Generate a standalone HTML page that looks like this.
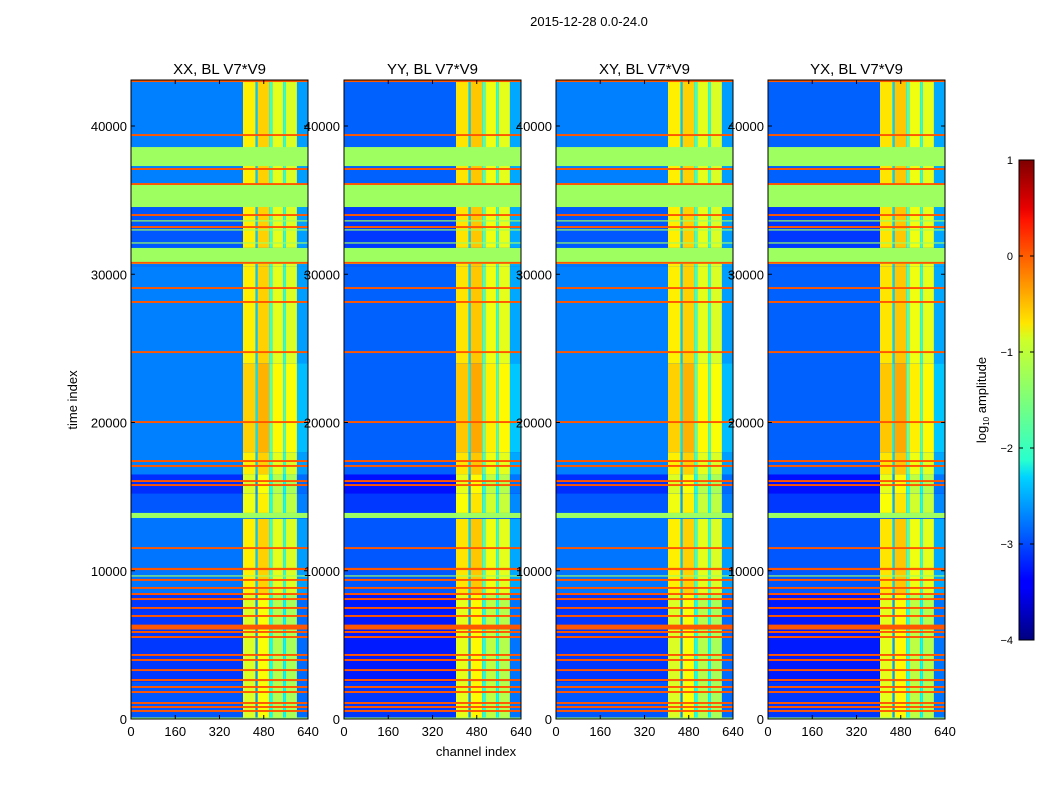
<!DOCTYPE html>
<html><head><meta charset="utf-8"><style>
body{margin:0;background:#fff;}
svg text{font-family:"Liberation Sans",sans-serif;fill:#000;}
</style></head><body>
<svg id="fig" width="1050" height="800" viewBox="0 0 1050 800" xmlns="http://www.w3.org/2000/svg">
<rect width="1050" height="800" fill="#fff"/>
<text x="589" y="26" font-size="13" text-anchor="middle">2015-12-28 0.0-24.0</text>
<text transform="translate(77,400) rotate(-90)" font-size="13" text-anchor="middle">time index</text>
<text x="476" y="756" font-size="13" text-anchor="middle">channel index</text>
<defs>
<linearGradient id="jet" x1="0" y1="1" x2="0" y2="0">
<stop offset="0" stop-color="#00007f"/><stop offset="0.11" stop-color="#0000ff"/>
<stop offset="0.125" stop-color="#0000ff"/><stop offset="0.34" stop-color="#00d4ff"/>
<stop offset="0.375" stop-color="#29ffce"/><stop offset="0.5" stop-color="#7dff7a"/>
<stop offset="0.625" stop-color="#ceff29"/><stop offset="0.66" stop-color="#ffe600"/>
<stop offset="0.875" stop-color="#ff1300"/><stop offset="0.9" stop-color="#e80000"/>
<stop offset="1" stop-color="#7f0000"/>
</linearGradient>
</defs>
<g>
<rect x="1019" y="160" width="15" height="480" fill="url(#jet)" stroke="#000" stroke-width="1"/>
<g id="cbticks"></g>
<text transform="translate(986,400) rotate(-90)" font-size="13" text-anchor="middle">log<tspan font-size="8" dy="3">10</tspan><tspan dy="-3"> amplitude</tspan></text>
</g>
<g id="panels"></g>
</svg>
<script>
// ---- data ----
const panelTitles = ["XX, BL V7*V9","YY, BL V7*V9","XY, BL V7*V9","YX, BL V7*V9"];
const panelBaseShift = [0, -0.15, 0, -0.15];
const xTicks = [0,160,320,480,640];
const yTicks = [0,10000,20000,30000,40000];
const cbTicks = [1,0,-1,-2,-3,-4];
// time segments
const rowStart = [0,2500,8500,13900,15200,16500,18000,24000,30500,31800,36000];
const rowEnd   = [2500,8500,13500,15200,16500,18000,24000,30500,31800,36000,43100];
const rowBase  = [-2.95,-3.1,-2.8,-2.95,-3.15,-2.75,-2.75,-2.75,-2.8,-2.95,-2.75];
const rowAdj   = [-0.25,-0.25,0,-0.15,-0.25,0,0.15,0,0,0,0];
// channel bands
const colStart = [405,450,458,500,512,550,560,600];
const colEnd   = [450,458,500,512,550,560,600,640];
const colLevel = [-0.8,-2.4,-0.65,-1.8,-1.0,-1.9,-1.05,-2.6];
// flagged (constant) rows
const flagStart = [37300,34535,30690,13560,0,33560,32950,32070,9610];
const flagEnd   = [38580,36020,31770,13900,100,33640,33030,32150,9690];
const flagLevel = -1.35;
// hot (orange) rows
const hotT = [43030,39390,37100,36085,33995,33185,30770,29070,28130,24750,20030,17400,17070,16050,15780,11530,10120,9380,8840,8430,8090,7490,6950,6200,5870,5530,4320,3980,3300,2630,2160,1820,1080,810,540];
const hotW = [130,130,130,130,130,130,130,130,130,130,130,130,130,130,130,130,150,130,130,130,130,130,130,330,130,130,130,130,130,130,130,130,130,130,130];
const hotLevel = -0.05;

// ---- helpers ----
function jet(val){
  let v=(val+4)/5; v=Math.max(0,Math.min(1,v));
  const c=x=>Math.round(255*Math.max(0,Math.min(1,x)));
  return `rgb(${c(1.5-Math.abs(4*v-3))},${c(1.5-Math.abs(4*v-2))},${c(1.5-Math.abs(4*v-1))})`;
}
const NS="http://www.w3.org/2000/svg";
function mk(tag,attrs,parent){const e=document.createElementNS(NS,tag);for(const k in attrs)e.setAttribute(k,attrs[k]);parent.appendChild(e);return e;}
const panelX=[131,344,556,768], PW=177, PT=80, PB=719, TMAX=43103;
const panelsG=document.getElementById('panels');

panelTitles.forEach((title,p)=>{
  const x0=panelX[p];
  const xs=c=>x0+c/640*PW;
  const ys=t=>PB-t/TMAX*(PB-PT);
  const g=mk('g',{},panelsG);
  
  
  mk('rect',{x:x0,y:PT,width:PW,height:PB-PT,fill:jet(-2.8+panelBaseShift[p])},g);
  rowStart.forEach((t0,i)=>{
    const y1=ys(rowEnd[i]), y2=ys(t0);
    const r=mk('rect',{x:x0,y:y1,width:PW,height:y2-y1,fill:jet(rowBase[i]+panelBaseShift[p])},g);
    
    
    colStart.forEach((c0,j)=>{
      const cr=mk('rect',{x:xs(c0),y:y1,width:xs(colEnd[j])-xs(c0),height:y2-y1,fill:jet(colLevel[j]+rowAdj[i]+(p%2?0.05:0))},g);
      
      
    });
  });
  flagStart.forEach((t0,i)=>{
    const y1=ys(flagEnd[i]), y2=ys(t0);
    const f=mk('rect',{x:x0,y:y1,width:PW,height:Math.max(1,y2-y1),fill:jet(flagLevel)},g);
    
    
  });
  hotT.forEach((t,i)=>{
    const y1=ys(t+hotW[i]/2), y2=ys(t-hotW[i]/2);
    const h=mk('rect',{x:x0,y:y1,width:PW,height:Math.max(1.8,y2-y1),fill:jet(hotLevel)},g);
    
    
  });
  mk('rect',{x:x0,y:PT,width:PW,height:PB-PT,fill:'none',stroke:'#000','stroke-width':1},g);
  const tt=mk('text',{x:x0+PW/2,y:74,'font-size':15,'text-anchor':'middle'},g);
  tt.textContent=title;
  
  
  xTicks.forEach(v=>{
    const x=xs(v);
    mk('line',{x1:x,x2:x,y1:PB,y2:PB-4,stroke:'#000'},g);
    mk('line',{x1:x,x2:x,y1:PT,y2:PT+4,stroke:'#000'},g);
    const l=mk('text',{x:x,y:PB+17,'font-size':13,'text-anchor':'middle'},g);
    l.textContent=v;
    
    
  });
  yTicks.forEach(v=>{
    const y=ys(v);
    mk('line',{x1:x0,x2:x0+4,y1:y,y2:y,stroke:'#000'},g);
    mk('line',{x1:x0+PW,x2:x0+PW-4,y1:y,y2:y,stroke:'#000'},g);
    const l=mk('text',{x:x0-4,y:y+5,'font-size':13,'text-anchor':'end'},g);
    l.textContent=v;
    
    
  });
});
const cbg=document.getElementById('cbticks');
cbTicks.forEach(v=>{
  const y=160+(1-v)/5*480;
  mk('line',{x1:1019,x2:1023,y1:y,y2:y,stroke:'#000'},cbg);
  mk('line',{x1:1034,x2:1030,y1:y,y2:y,stroke:'#000'},cbg);
  const l=mk('text',{x:1013,y:y+4,'font-size':11,'text-anchor':'end'},cbg);
  l.textContent=v<0?'\u2212'+(-v):v;
  
  
});
</script>
</body></html>
